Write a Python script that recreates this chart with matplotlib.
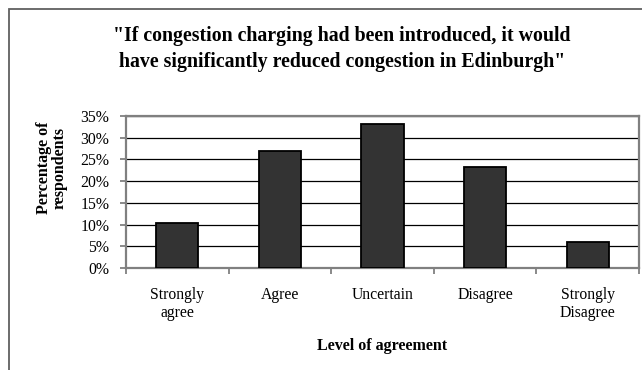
import matplotlib.pyplot as plt
from matplotlib.patches import Rectangle
from matplotlib.ticker import PercentFormatter

# survey answers
categories = ["Strongly\nagree", "Agree", "Uncertain", "Disagree", "Strongly\nDisagree"]
percent = [10.4, 27.0, 33.2, 23.3, 6.1]
y_ticks = [0, 5, 10, 15, 20, 25, 30, 35]

plt.rcParams['font.family'] = ['Liberation Serif', 'DejaVu Serif']

fig = plt.figure(figsize=(6.42, 3.70), dpi=100)
W, H = 642.0, 370.0

# outer chart border (runs off the right and bottom edges)
fig.patches.append(Rectangle((9 / W, -0.1), 1.2, 1.1 - 9 / H,
                             transform=fig.transFigure, fill=False,
                             edgecolor='#606060', linewidth=1.3, zorder=0))

ax = fig.add_axes([126 / W, 1 - 268 / H, (639 - 126) / W, (268 - 116) / H])

x = list(range(len(categories)))
ax.bar(x, percent, width=0.41, color='#333333', edgecolor='black',
       linewidth=1.3, zorder=3)

ax.set_xlim(-0.5, len(categories) - 0.5)
ax.set_ylim(0, 35)
ax.set_yticks(y_ticks)
ax.yaxis.set_major_formatter(PercentFormatter(decimals=0))
ax.yaxis.grid(True, color='black', linewidth=0.9, zorder=1)

# category labels sit between the boundary tick marks
ax.set_xticks(x)
ax.set_xticklabels(categories, fontsize=11.3, linespacing=1.15)
ax.tick_params(axis='x', length=0, pad=14)
ax.set_xticks([i - 0.5 for i in range(len(categories) + 1)], minor=True)
ax.tick_params(axis='x', which='minor', length=4, width=1.3, color='#808080',
               direction='out')
ax.tick_params(axis='y', length=4, width=1.3, color='#808080', labelsize=11.3,
               pad=8)

for side in ['left', 'right', 'top', 'bottom']:
    ax.spines[side].set_color('#808080')
    ax.spines[side].set_linewidth(1.6)

ax.set_xlabel("Level of agreement", fontsize=11.5, fontweight='bold',
              labelpad=12)

# y label sits a little above the middle of the axis
fig.text(52 / W, 1 - 168 / H, "Percentage of\nrespondents", rotation=90,
         ha='center', va='center', fontsize=11.5, fontweight='bold',
         linespacing=1.0)

fig.text(342 / W, 1 - 49 / H,
         '"If congestion charging had been introduced, it would\n'
         'have significantly reduced congestion in Edinburgh"',
         ha='center', va='center', fontsize=14.3, fontweight='bold',
         linespacing=1.4)

fig.savefig("out.png", dpi=100)
